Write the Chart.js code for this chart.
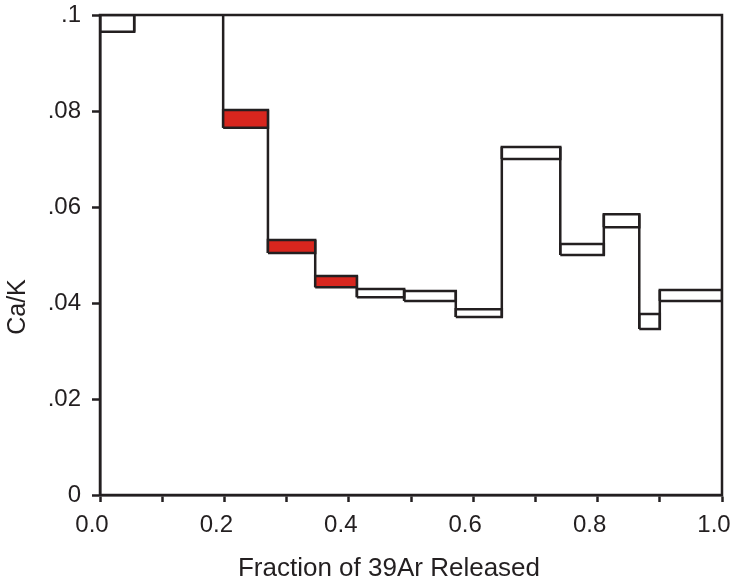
<!DOCTYPE html>
<html>
<head>
<meta charset="utf-8">
<script src="https://cdn.jsdelivr.net/npm/chart.js@4.4.1/dist/chart.umd.min.js"></script>
<style>
  html, body { margin: 0; padding: 0; background: #fff; }
  #wrap { width: 735px; height: 584px; }
</style>
</head>
<body>
<div id="wrap"><canvas id="caChart"></canvas></div>
<script>
// step edges (cumulative fraction of 39Ar), one more than steps
const stepEdges = [0, 0.055, 0.198, 0.270, 0.346, 0.413, 0.489, 0.572, 0.646, 0.740, 0.810, 0.867, 0.900, 1.0];
// Ca/K box low / high per step
const caLow  = [0.0965, 0.121, 0.0765, 0.0504, 0.0433, 0.0412, 0.0404, 0.0371, 0.0700, 0.0500, 0.0558, 0.0346, 0.0404];
const caHigh = [0.1000, 0.125, 0.0802, 0.0531, 0.0456, 0.0429, 0.0425, 0.0387, 0.0725, 0.0523, 0.0585, 0.0377, 0.0427];
// steps used in plateau (filled)
const plateau = [false, false, true, true, true, false, false, false, false, false, false, false, false];
const yTicks = [0, 0.02, 0.04, 0.06, 0.08, 0.1];

const INK = '#231f20';
const RED = '#d8261e';
const FONT = 'Liberation Sans, Arial, sans-serif';

window.onload = function(){
  drawCaK();
};

function drawCaK(){
  const ctx = document.getElementById('caChart').getContext('2d');
  const datasets = [];

  // connector lines at step boundaries
  const conn = [];
  for (let i = 0; i < caLow.length - 1; i++) {
    const x = stepEdges[i + 1];
    conn.push({x: x, y: Math.min(caLow[i], caLow[i + 1])});
    conn.push({x: x, y: Math.max(caHigh[i], caHigh[i + 1])});
    conn.push({x: x, y: null});
  }
  datasets.push({
    data: conn, borderColor: INK, borderWidth: 2.5, pointRadius: 0,
    spanGaps: false, fill: false, clip: 0, order: 2
  });

  // one closed box per step
  for (let i = 0; i < caLow.length; i++) {
    const x0 = stepEdges[i], x1 = stepEdges[i + 1];
    datasets.push({
      data: [
        {x: x0, y: caLow[i]}, {x: x1, y: caLow[i]},
        {x: x1, y: caHigh[i]}, {x: x0, y: caHigh[i]},
        {x: x0, y: caLow[i]}
      ],
      borderColor: INK,
      borderWidth: 2.5,
      backgroundColor: plateau[i] ? RED : '#ffffff',
      fill: plateau[i] ? 'shape' : false,
      pointRadius: 0,
      tension: 0,
      clip: 0,
      order: 1
    });
  }

  // frame round the plot, axis titles placed like the original
  const frame = {
    id: 'frame',
    afterDraw(chart){
      const a = chart.chartArea, c = chart.ctx;
      c.save();
      c.strokeStyle = INK;
      c.lineWidth = 2.5;
      c.strokeRect(a.left, a.top, a.right - a.left, a.bottom - a.top);
      c.fillStyle = INK;
      c.textAlign = 'center';
      c.textBaseline = 'middle';
      c.font = '26px ' + FONT;
      c.fillText('Fraction of 39Ar Released', 389, 569);
      c.translate(18, 307);
      c.rotate(-Math.PI / 2);
      c.font = '25px ' + FONT;
      c.fillText('Ca/K', 0, 0);
      c.restore();
    }
  };

  new Chart(ctx, {
    type: 'line',
    data: { datasets: datasets },
    plugins: [frame],
    options: {
      responsive: true,
      maintainAspectRatio: false,
      animation: false,
      layout: { padding: { top: 15, right: 13, left: 0, bottom: 0 } },
      plugins: { legend: { display: false }, tooltip: { enabled: false } },
      scales: {
        x: {
          type: 'linear', min: 0, max: 1,
          afterFit: function(s){ s.height = 89; s.paddingLeft = 0; s.paddingRight = 0; },
          ticks: {
            stepSize: 0.1, color: INK, padding: 9, maxRotation: 0, labelOffset: -8,
            font: { family: FONT, size: 24 },
            callback: function(v){ return Math.round(v * 10) % 2 === 0 ? v.toFixed(1) : ''; }
          },
          grid: { drawOnChartArea: false, drawTicks: true, tickLength: 7, tickColor: INK, tickWidth: 2.5 },
          border: { color: INK, width: 2.5 },
          title: { display: false }
        },
        y: {
          type: 'linear', min: 0, max: 0.1,
          afterFit: function(s){ s.width = 100; s.paddingTop = 0; s.paddingBottom = 0; },
          afterBuildTicks: function(s){ s.ticks = yTicks.map(function(v){ return {value: v}; }); },
          ticks: {
            color: INK, padding: 11,
            font: { family: FONT, size: 24 },
            callback: function(v){ return v === 0 ? '0' : v.toFixed(2).replace(/^0/, '').replace(/0$/, ''); }
          },
          grid: { drawOnChartArea: false, drawTicks: true, tickLength: 8, tickColor: INK, tickWidth: 2.5 },
          border: { color: INK, width: 2.5 },
          title: { display: false }
        }
      }
    }
  });
}
</script>
</body>
</html>
